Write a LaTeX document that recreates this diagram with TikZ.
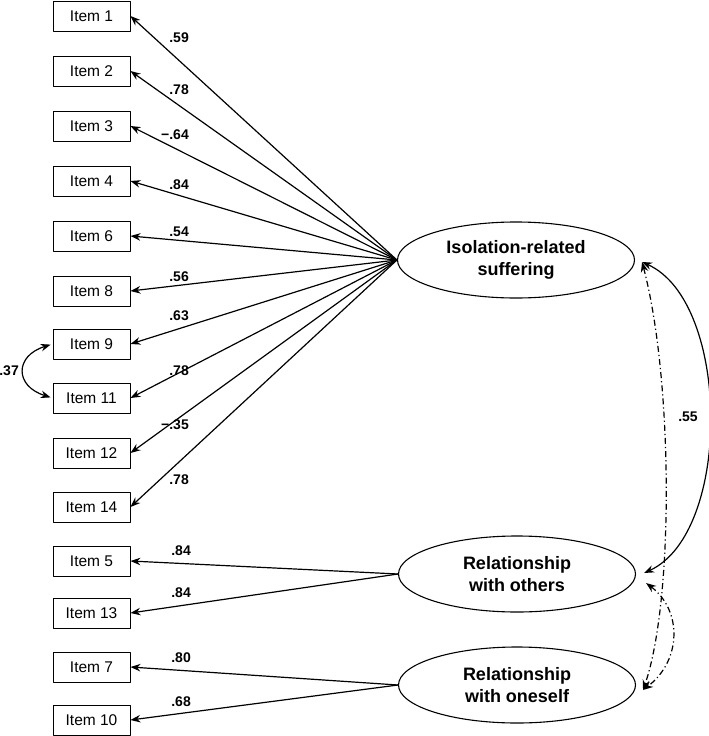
\documentclass[tikz,border=0pt]{standalone}
\usepackage{fontspec}
\setmainfont{Liberation Sans}
\usetikzlibrary{shapes.geometric,arrows.meta}
\begin{document}
\begin{tikzpicture}[x=1pt,y=-1pt,line join=round,>={Stealth[length=10pt,width=7.5pt]},
	item/.style={draw,line width=0.9pt,minimum width=77pt,minimum height=30pt,inner sep=0pt,font=\fontsize{15.5}{18}\selectfont},
	factor/.style={draw,ellipse,line width=1.1pt,minimum width=237pt,minimum height=76pt,inner sep=0pt,align=center,font=\fontsize{18}{22}\selectfont\bfseries},
	load/.style={->,line width=1.2pt},
	lbl/.style={anchor=east,inner sep=0pt,font=\fontsize{14}{16}\selectfont\bfseries},
	dashdot/.style={line width=1.2pt,dash pattern=on 6pt off 3pt on 1.2pt off 3pt}]
	\useasboundingbox (0,0) rectangle (709,736);
	% latent factors
	\node[factor] (iso) at (516,260) {Isolation-related\\suffering};
	\node[factor] (oth) at (517,574) {Relationship\\with others};
	\node[factor] (one) at (517,685) {Relationship\\with oneself};
	% items and loadings
	\foreach \n/\y/\l/\ly in {1/16/.59/38,2/71/.78/90,3/126/−.64/135,4/181/.84/185,6/236/.54/232,8/291/.56/277,9/344/.63/316,11/398/.78/371,12/453/−.35/425,14/507/.78/480}{
		\node[item] (i\n) at (91.5,\y) {Item \n};
		\draw[load] (iso.west) -- (i\n.east);
		\node[lbl] (w\n) at (189,\ly) {\l};
	}
	\foreach \n/\y/\l/\ly in {5/561/.84/551,13/613/.84/593}{
		\node[item] (i\n) at (91.5,\y) {Item \n};
		\draw[load] (oth.west) -- (i\n.east);
		\node[lbl] (w\n) at (191,\ly) {\l};
	}
	\foreach \n/\y/\l/\ly in {7/667/.80/658,10/720/.68/702}{
		\node[item] (i\n) at (91.5,\y) {Item \n};
		\draw[load] (one.west) -- (i\n.east);
		\node[lbl] (w\n) at (191,\ly) {\l};
	}
	% covariances
	\draw[<->,line width=1.2pt,shorten <=2pt,shorten >=2pt] (i9.west) .. controls +(-38,12) and +(-38,-12) .. (i11.west);
	\node[lbl] (c911) at (19,371) {.37};
	\draw[<->,line width=1.2pt] ([shift={(7,2)}]iso.east) .. controls +(89,40) and +(88,-40) .. ([shift={(8,-1)}]oth.east);
	\node[lbl,anchor=center] (c12) at (688,417) {.55};
	\draw[<->,dashdot] ([shift={(7,2)}]iso.east) .. controls +(31,118) and +(31,-90) .. ([shift={(7,5)}]one.east);
	\draw[<->,dashdot] ([shift={(10,9)}]oth.east) .. controls +(36,27) and +(39,-30) .. ([shift={(7,5)}]one.east);
\end{tikzpicture}
\end{document}
